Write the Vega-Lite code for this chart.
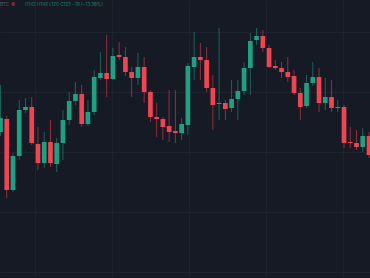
{
  "$schema": "https://vega.github.io/schema/vega-lite/v6.json",
  "width": 370,
  "height": 278,
  "autosize": {"type": "fit", "contains": "padding"},
  "padding": 0,
  "background": "#161a25",
  "config": {"view": {"stroke": null}, "axis": {"minExtent": 0, "maxExtent": 0, "offset": 0, "labelPadding": 0, "tickSize": 0}},
  "data": {"values": [
    {"t":0,"o":146,"c":160,"h":193,"l":142},
    {"t":1,"o":159,"c":88,"h":162,"l":80},
    {"t":2,"o":88,"c":122,"h":125,"l":86},
    {"t":3,"o":122,"c":168,"h":178,"l":118},
    {"t":4,"o":168,"c":171,"h":180,"l":165},
    {"t":5,"o":171,"c":135,"h":181,"l":133},
    {"t":6,"o":134,"c":115,"h":151,"l":108},
    {"t":7,"o":115,"c":136,"h":146,"l":110},
    {"t":8,"o":136,"c":115,"h":158,"l":111},
    {"t":9,"o":114,"c":135,"h":140,"l":106},
    {"t":10,"o":135,"c":158,"h":168,"l":118},
    {"t":11,"o":158,"c":177,"h":186,"l":153},
    {"t":12,"o":177,"c":184,"h":196,"l":173},
    {"t":13,"o":184,"c":154,"h":193,"l":151},
    {"t":14,"o":154,"c":166,"h":178,"l":152},
    {"t":15,"o":166,"c":201,"h":208,"l":163},
    {"t":16,"o":200,"c":205,"h":226,"l":198},
    {"t":17,"o":205,"c":199,"h":243,"l":181},
    {"t":18,"o":199,"c":222,"h":230,"l":198},
    {"t":19,"o":223,"c":221,"h":236,"l":218},
    {"t":20,"o":221,"c":206,"h":231,"l":202},
    {"t":21,"o":206,"c":200,"h":211,"l":181},
    {"t":22,"o":200,"c":211,"h":225,"l":193},
    {"t":23,"o":211,"c":186,"h":221,"l":175},
    {"t":24,"o":186,"c":161,"h":188,"l":156},
    {"t":25,"o":161,"c":159,"h":175,"l":141},
    {"t":26,"o":159,"c":151,"h":161,"l":138},
    {"t":27,"o":152,"c":146,"h":188,"l":136},
    {"t":28,"o":147,"c":145,"h":188,"l":135},
    {"t":29,"o":145,"c":154,"h":160,"l":138},
    {"t":30,"o":153,"c":212,"h":215,"l":143},
    {"t":31,"o":211,"c":221,"h":246,"l":198},
    {"t":32,"o":221,"c":218,"h":235,"l":198},
    {"t":33,"o":218,"c":190,"h":231,"l":186},
    {"t":34,"o":190,"c":173,"h":203,"l":148},
    {"t":35,"o":174,"c":175,"h":250,"l":158},
    {"t":36,"o":175,"c":169,"h":178,"l":158},
    {"t":37,"o":170,"c":179,"h":198,"l":166},
    {"t":38,"o":179,"c":187,"h":198,"l":158},
    {"t":39,"o":187,"c":210,"h":216,"l":183},
    {"t":40,"o":210,"c":237,"h":245,"l":183},
    {"t":41,"o":238,"c":242,"h":250,"l":233},
    {"t":42,"o":242,"c":230,"h":248,"l":226},
    {"t":43,"o":230,"c":211,"h":233,"l":210},
    {"t":44,"o":212,"c":210,"h":218,"l":208},
    {"t":45,"o":210,"c":206,"h":216,"l":200},
    {"t":46,"o":206,"c":201,"h":221,"l":196},
    {"t":47,"o":202,"c":185,"h":208,"l":183},
    {"t":48,"o":185,"c":171,"h":190,"l":158},
    {"t":49,"o":172,"c":195,"h":203,"l":170},
    {"t":50,"o":195,"c":201,"h":216,"l":192},
    {"t":51,"o":201,"c":175,"h":210,"l":166},
    {"t":52,"o":175,"c":181,"h":200,"l":168},
    {"t":53,"o":181,"c":170,"h":198,"l":166},
    {"t":54,"o":170,"c":171,"h":178,"l":166},
    {"t":55,"o":171,"c":135,"h":173,"l":130},
    {"t":56,"o":136,"c":135,"h":151,"l":130},
    {"t":57,"o":135,"c":131,"h":148,"l":128},
    {"t":58,"o":131,"c":142,"h":150,"l":126},
    {"t":59,"o":142,"c":123,"h":146,"l":120}
  ]},
  "encoding": {
    "x": {"field": "t", "type": "quantitative",
      "scale": {"domain": [-0.08, 59.16], "nice": false, "zero": false, "padding": 0},
      "axis": {"title": null, "labels": false, "ticks": false, "domain": false, "grid": true,
        "gridColor": "#1e222d", "gridWidth": 1, "values": [5.52, 17.85, 30.18, 42.5, 54.8]}}
  },
  "layer": [
    {
      "mark": {"type": "rule", "strokeWidth": 1, "opacity": 0.55, "clip": true},
      "encoding": {
        "y": {"field": "l", "type": "quantitative",
          "scale": {"domain": [0, 278], "nice": false, "zero": false, "padding": 0},
          "axis": {"title": null, "labels": false, "ticks": false, "domain": false, "grid": true,
            "gridColor": "#1e222d", "gridWidth": 1, "values": [6, 66, 126, 186, 246]}},
        "y2": {"field": "h"},
        "color": {"condition": {"test": "datum.c >= datum.o", "value": "#1f9f83"}, "value": "#ef4452"}
      }
    },
    {
      "mark": {"type": "bar", "size": 4.7, "clip": true},
      "encoding": {
        "y": {"field": "o", "type": "quantitative"},
        "y2": {"field": "c"},
        "color": {"condition": {"test": "datum.c >= datum.o", "value": "#1f9f83"}, "value": "#ef4452"}
      }
    },
    {
      "data": {"values": [
        {"t": -0.08, "p": 273, "label": "BTC", "kind": "name"},
        {"t": 1.7, "p": 273, "label": "●", "kind": "dot"},
        {"t": 3.9, "p": 273, "label": "O142 H146 L120 C123 −19 (−13.38%)", "kind": "ohlc"}
      ]},
      "mark": {"type": "text", "align": "left", "baseline": "middle", "fontSize": 4.5, "font": "Inter", "opacity": 0.8, "clip": true},
      "encoding": {
        "x": {"field": "t", "type": "quantitative"},
        "y": {"field": "p", "type": "quantitative"},
        "text": {"field": "label"},
        "color": {"field": "kind", "type": "nominal",
          "scale": {"domain": ["name", "dot", "ohlc"], "range": ["#6b7080", "#a02a3a", "#1f9f83"]},
          "legend": null}
      }
    }
  ]
}
